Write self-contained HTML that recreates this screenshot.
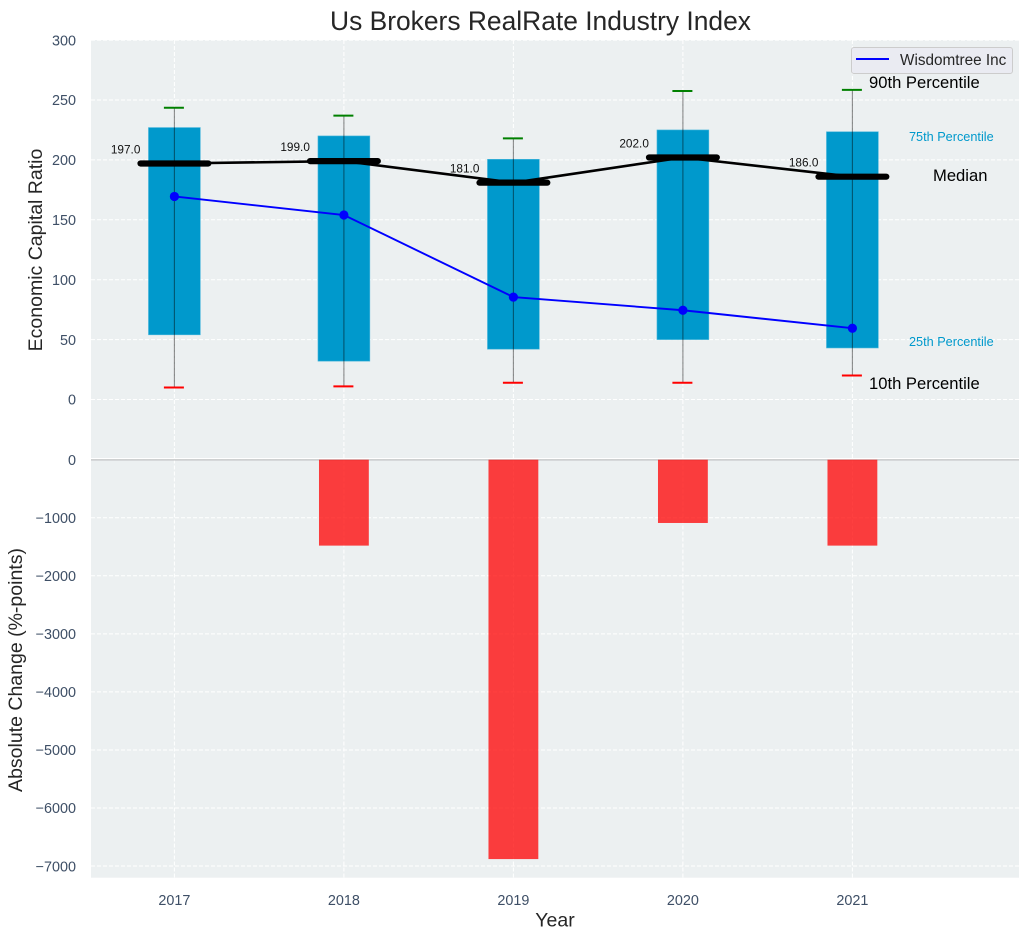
<!DOCTYPE html>
<html>
<head>
<meta charset="utf-8">
<title>Us Brokers RealRate Industry Index</title>
<style>
html,body{margin:0;padding:0;background:#fff;width:1029px;height:940px;overflow:hidden}
svg{display:block;font-family:"Liberation Sans",Arial,sans-serif}
</style>
</head>
<body>
<svg id="chart" width="1029" height="940" viewBox="0 0 1029 940" xmlns="http://www.w3.org/2000/svg"></svg>
<script>
const years = [2017, 2018, 2019, 2020, 2021];
const p90 = [243.5, 237, 218, 257.5, 258.5];
const p75 = [227, 220, 200.5, 225, 223.5];
const median = [197, 199, 181, 202, 186];
const p25 = [54, 32, 42, 50, 43];
const p10 = [10, 11, 14, 14, 20];
const company = [169.5, 154, 85.5, 74.5, 59.5];
const absChange = [0, -1480, -6880, -1090, -1480];
const topTicks = [0, 50, 100, 150, 200, 250, 300];
const bottomTicks = [0, -1000, -2000, -3000, -4000, -5000, -6000, -7000];

const NS = 'http://www.w3.org/2000/svg';
const svg = document.getElementById('chart');
const L = 91, R = 1019, T = 40, M = 459.5, B = 877.7;
const X = v => 174.4 + (v - 2017) * 169.5;
const YT = v => 399.5 - v * 1.198;
const YB = v => 459.7 - v * 0.05805;
const W = d => X(2017 + d) - X(2017);

function mk(tag, props, text) {
  const e = document.createElementNS(NS, tag);
  for (const k in props) e.setAttribute(k, props[k]);
  if (text !== undefined) e.textContent = text;
  svg.appendChild(e);
  return e;
}
const fmt = v => String(v).replace('-', '\u2212');
const TICK = '#3e4f66', DARK = '#262626';

let el;
el = mk('rect', {x: L, y: T, width: R - L, height: M - T, fill: '#ecf0f1'});


el = mk('rect', {x: L, y: M, width: R - L, height: B - M, fill: '#ecf0f1'});



const gridStyle = {stroke: '#fff', 'stroke-width': 1, 'stroke-dasharray': '4 2', fill: 'none'};
topTicks.forEach(t => {
  const line = mk('line', Object.assign({x1: L, x2: R, y1: YT(t), y2: YT(t)}, gridStyle));
  
  
  const lab = mk('text', {x: 76, y: YT(t) + 5.2, 'text-anchor': 'end', 'font-size': 14.4, fill: TICK}, fmt(t));
  
  
});
bottomTicks.forEach(t => {
  const line = mk('line', Object.assign({x1: L, x2: R, y1: YB(t), y2: YB(t)}, gridStyle));
  
  
  const lab = mk('text', {x: 76, y: YB(t) + 5.2, 'text-anchor': 'end', 'font-size': 14.4, fill: TICK}, fmt(t));
  
  
});
years.forEach(y => {
  const a = mk('line', Object.assign({x1: X(y), x2: X(y), y1: T, y2: M}, gridStyle));
  
  
  const b = mk('line', Object.assign({x1: X(y), x2: X(y), y1: M, y2: B}, gridStyle));
  
  
  const lab = mk('text', {x: X(y), y: 905, 'text-anchor': 'middle', 'font-size': 14.4, fill: TICK}, String(y));
  
  
});

el = mk('line', {x1: L, x2: R, y1: 458.6, y2: 458.6, stroke: '#fff', 'stroke-width': 1.2});


el = mk('line', {x1: L, x2: R, y1: 459.9, y2: 459.9, stroke: '#bfc1c2', 'stroke-width': 1.2});



years.forEach((y, i) => {
  const hw = W(0.153);
  const bar = mk('rect', {x: X(y) - hw, y: YT(p75[i]), width: hw * 2, height: YT(p25[i]) - YT(p75[i]), fill: '#0099cc', stroke: '#4db8dc', 'stroke-width': 0.6});
  
  
});

el = mk('polyline', {points: years.map((y, i) => X(y) + ',' + YT(median[i])).join(' '), fill: 'none', stroke: '#000', 'stroke-width': 2.6, 'stroke-linejoin': 'round'});



years.forEach((y, i) => {
  const hw = W(0.2);
  const m = mk('line', {x1: X(y) - hw, x2: X(y) + hw, y1: YT(median[i]), y2: YT(median[i]), stroke: '#000', 'stroke-width': 6.2, 'stroke-linecap': 'round'});
  
  
});

years.forEach((y, i) => {
  const wh = mk('line', {x1: X(y), x2: X(y), y1: YT(p90[i]), y2: YT(p10[i]), stroke: '#000', 'stroke-opacity': 0.45, 'stroke-width': 1.1});
  
  
  const top = mk('line', {x1: X(y) - 10.5, x2: X(y) + 9.5, y1: YT(p90[i]), y2: YT(p90[i]), stroke: '#008000', 'stroke-width': 2});
  
  
  const low = mk('line', {x1: X(y) - 10.5, x2: X(y) + 9.5, y1: YT(p10[i]), y2: YT(p10[i]), stroke: '#ff0000', 'stroke-width': 2});
  
  
  const lab = mk('text', {x: X(y) - 34, y: YT(median[i]) - 10, 'text-anchor': 'end', 'font-size': 11.8, fill: '#111'}, median[i].toFixed(1));
  
  
});

el = mk('polyline', {points: years.map((y, i) => X(y) + ',' + YT(company[i])).join(' '), fill: 'none', stroke: '#0000ff', 'stroke-width': 1.9});


years.forEach((y, i) => {
  const p = mk('circle', {cx: X(y), cy: YT(company[i]), r: 4.6, fill: '#0000ff'});
  
  
});

years.forEach((y, i) => {
  if (absChange[i] === 0) return;
  const hw = W(0.147);
  const b = mk('rect', {x: X(y) - hw, y: YB(0), width: hw * 2, height: YB(absChange[i]) - YB(0), fill: '#ff0000', 'fill-opacity': 0.75});
  
  
});

el = mk('text', {x: 540.5, y: 30, 'text-anchor': 'middle', 'font-size': 26.4, fill: DARK}, 'Us Brokers RealRate Industry Index');


el = mk('text', {x: 555, y: 926.5, 'text-anchor': 'middle', 'font-size': 19.5, fill: DARK}, 'Year');


el = mk('text', {transform: 'translate(42 250) rotate(-90)', 'text-anchor': 'middle', 'font-size': 19.5, fill: DARK}, 'Economic Capital Ratio');


el = mk('text', {transform: 'translate(22 670) rotate(-90)', 'text-anchor': 'middle', 'font-size': 19.5, fill: DARK}, 'Absolute Change (%-points)');



el = mk('text', {x: 869, y: 88, 'font-size': 16.6, fill: '#000'}, '90th Percentile');


el = mk('text', {x: 909, y: 141, 'font-size': 12.7, fill: '#0099cc'}, '75th Percentile');


el = mk('text', {x: 933, y: 181, 'font-size': 16.6, fill: '#000'}, 'Median');


el = mk('text', {x: 909, y: 346, 'font-size': 12.7, fill: '#0099cc'}, '25th Percentile');


el = mk('text', {x: 869, y: 389, 'font-size': 16.6, fill: '#000'}, '10th Percentile');



el = mk('rect', {x: 851.5, y: 47.5, width: 161, height: 26, rx: 2.5, fill: '#eaeaf2', 'fill-opacity': 0.9, stroke: '#cccccc', 'stroke-width': 1});


el = mk('line', {x1: 856, x2: 889, y1: 59, y2: 59, stroke: '#0000ff', 'stroke-width': 1.9});


el = mk('text', {x: 900, y: 65, 'font-size': 15.3, fill: DARK}, 'Wisdomtree Inc');


</script>
</body>
</html>
